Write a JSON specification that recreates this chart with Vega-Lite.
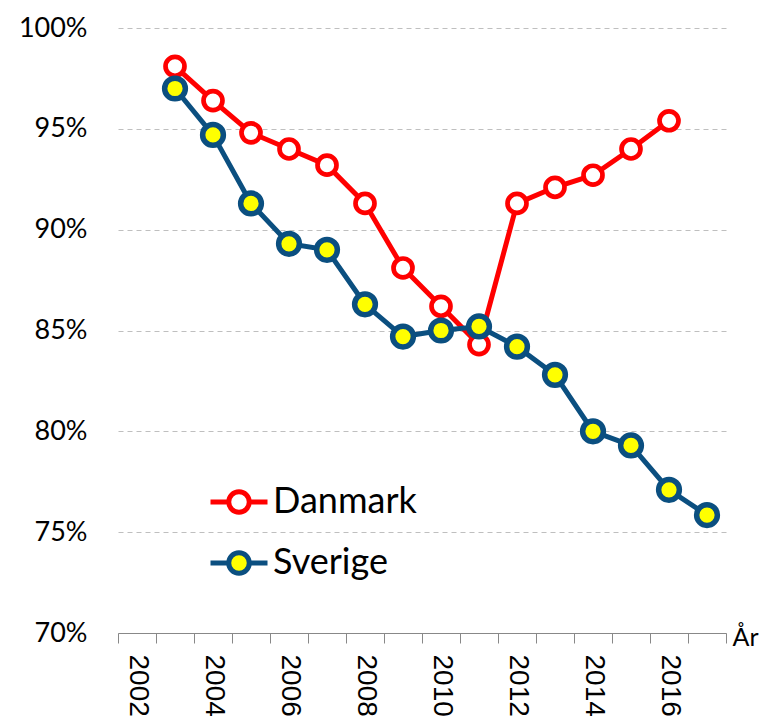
{
  "$schema": "https://vega.github.io/schema/vega-lite/v6.json",
  "autosize": "none",
  "padding": {"left": 118, "top": 28, "right": 38, "bottom": 84},
  "width": 608,
  "height": 605,
  "background": "white",
  "config": {"view": {"stroke": null}},
  "data": {
    "values": [
      {"year": 2003, "land": "Danmark", "value": 0.981},
      {"year": 2004, "land": "Danmark", "value": 0.964},
      {"year": 2005, "land": "Danmark", "value": 0.948},
      {"year": 2006, "land": "Danmark", "value": 0.940},
      {"year": 2007, "land": "Danmark", "value": 0.932},
      {"year": 2008, "land": "Danmark", "value": 0.913},
      {"year": 2009, "land": "Danmark", "value": 0.881},
      {"year": 2010, "land": "Danmark", "value": 0.862},
      {"year": 2011, "land": "Danmark", "value": 0.843},
      {"year": 2012, "land": "Danmark", "value": 0.913},
      {"year": 2013, "land": "Danmark", "value": 0.921},
      {"year": 2014, "land": "Danmark", "value": 0.927},
      {"year": 2015, "land": "Danmark", "value": 0.940},
      {"year": 2016, "land": "Danmark", "value": 0.954},
      {"year": 2003, "land": "Sverige", "value": 0.970},
      {"year": 2004, "land": "Sverige", "value": 0.947},
      {"year": 2005, "land": "Sverige", "value": 0.913},
      {"year": 2006, "land": "Sverige", "value": 0.893},
      {"year": 2007, "land": "Sverige", "value": 0.890},
      {"year": 2008, "land": "Sverige", "value": 0.863},
      {"year": 2009, "land": "Sverige", "value": 0.847},
      {"year": 2010, "land": "Sverige", "value": 0.850},
      {"year": 2011, "land": "Sverige", "value": 0.852},
      {"year": 2012, "land": "Sverige", "value": 0.842},
      {"year": 2013, "land": "Sverige", "value": 0.828},
      {"year": 2014, "land": "Sverige", "value": 0.800},
      {"year": 2015, "land": "Sverige", "value": 0.793},
      {"year": 2016, "land": "Sverige", "value": 0.771},
      {"year": 2017, "land": "Sverige", "value": 0.7585}
    ]
  },
  "encoding": {
    "x": {
      "field": "year",
      "type": "ordinal",
      "bandPosition": 0.5,
      "scale": {"type": "band", "domain": [2002, 2003, 2004, 2005, 2006, 2007, 2008, 2009, 2010, 2011, 2012, 2013, 2014, 2015, 2016, 2017], "paddingInner": 0, "paddingOuter": 0},
      "axis": {
        "title": "År",
        "titleAngle": 0,
        "titleX": 614,
        "titleY": 12,
        "titleAlign": "left",
        "titleBaseline": "alphabetic",
        "titleFont": "Lato",
        "titleFontSize": 25,
        "titleFontWeight": "normal",
        "titleColor": "black",
        "labelAngle": 90,
        "labelAlign": "left",
        "labelBaseline": "middle",
        "labelFont": "Liberation Sans",
        "labelFontSize": 28,
        "labelColor": "black",
        "labelPadding": 11,
        "labelOverlap": false,
        "labelBound": false,
        "labelExpr": "datum.value % 2 == 0 ? datum.label : ''",
        "tickBand": "extent",
        "tickSize": 10,
        "tickColor": "#888888",
        "domainColor": "#888888",
        "grid": false
      }
    },
    "y": {
      "field": "value",
      "type": "quantitative",
      "scale": {"domain": [0.7, 1.0], "nice": false, "zero": false},
      "axis": {
        "title": null,
        "values": [0.7, 0.75, 0.8, 0.85, 0.9, 0.95, 1.0],
        "format": ".0%",
        "domain": false,
        "ticks": false,
        "labelPadding": 31,
        "labelFont": "Lato",
        "labelFontSize": 27,
        "labelColor": "black",
        "grid": true,
        "gridColor": "#BFBFBF",
        "gridDash": [5, 4],
        "gridWidth": 1
      }
    }
  },
  "layer": [
    {
      "transform": [{"filter": "datum.land === 'Danmark'"}],
      "mark": {"type": "line", "strokeWidth": 5},
      "encoding": {
        "stroke": {
          "field": "land", "type": "nominal",
          "scale": {"domain": ["Danmark", "Sverige"], "range": ["#FF0000", "#0B4F80"]},
          "legend": {
            "orient": "none", "legendX": 90, "legendY": 443, "title": null,
            "symbolType": "M-1,0L-0.36,0M0.36,0L1,0M0.36,0A0.36,0.36,0,1,1,-0.36,0A0.36,0.36,0,1,1,0.36,0Z",
            "symbolSize": 3249, "symbolStrokeWidth": 5,
            "labelFont": "Lato", "labelFontSize": 36, "labelColor": "black",
            "labelOffset": 3, "rowPadding": 9, "padding": 0, "labelLimit": 400
          }
        }
      }
    },
    {
      "transform": [{"filter": "datum.land === 'Danmark'"}],
      "mark": {"type": "point", "filled": true, "shape": "circle", "size": 360, "strokeWidth": 4.7, "opacity": 1},
      "encoding": {
        "stroke": {"field": "land", "type": "nominal", "scale": {"domain": ["Danmark", "Sverige"], "range": ["#FF0000", "#0B4F80"]}},
        "fill": {
          "field": "land", "type": "nominal",
          "scale": {"domain": ["Danmark", "Sverige"], "range": ["#FFFFFF", "#FFFF00"]},
          "legend": {
            "orient": "none", "legendX": 90, "legendY": 443, "title": null,
            "symbolType": "M-1,0L-0.36,0M0.36,0L1,0M0.36,0A0.36,0.36,0,1,1,-0.36,0A0.36,0.36,0,1,1,0.36,0Z",
            "symbolSize": 3249, "symbolStrokeWidth": 5,
            "labelFont": "Lato", "labelFontSize": 36, "labelColor": "black",
            "labelOffset": 3, "rowPadding": 9, "padding": 0, "labelLimit": 400
          }
        }
      }
    },
    {
      "transform": [{"filter": "datum.land === 'Sverige'"}],
      "mark": {"type": "line", "strokeWidth": 5},
      "encoding": {
        "stroke": {"field": "land", "type": "nominal", "scale": {"domain": ["Danmark", "Sverige"], "range": ["#FF0000", "#0B4F80"]}}
      }
    },
    {
      "transform": [{"filter": "datum.land === 'Sverige'"}],
      "mark": {"type": "point", "filled": true, "shape": "circle", "size": 430, "strokeWidth": 5.5, "opacity": 1},
      "encoding": {
        "stroke": {"field": "land", "type": "nominal", "scale": {"domain": ["Danmark", "Sverige"], "range": ["#FF0000", "#0B4F80"]}},
        "fill": {"field": "land", "type": "nominal", "scale": {"domain": ["Danmark", "Sverige"], "range": ["#FFFFFF", "#FFFF00"]}}
      }
    }
  ]
}
